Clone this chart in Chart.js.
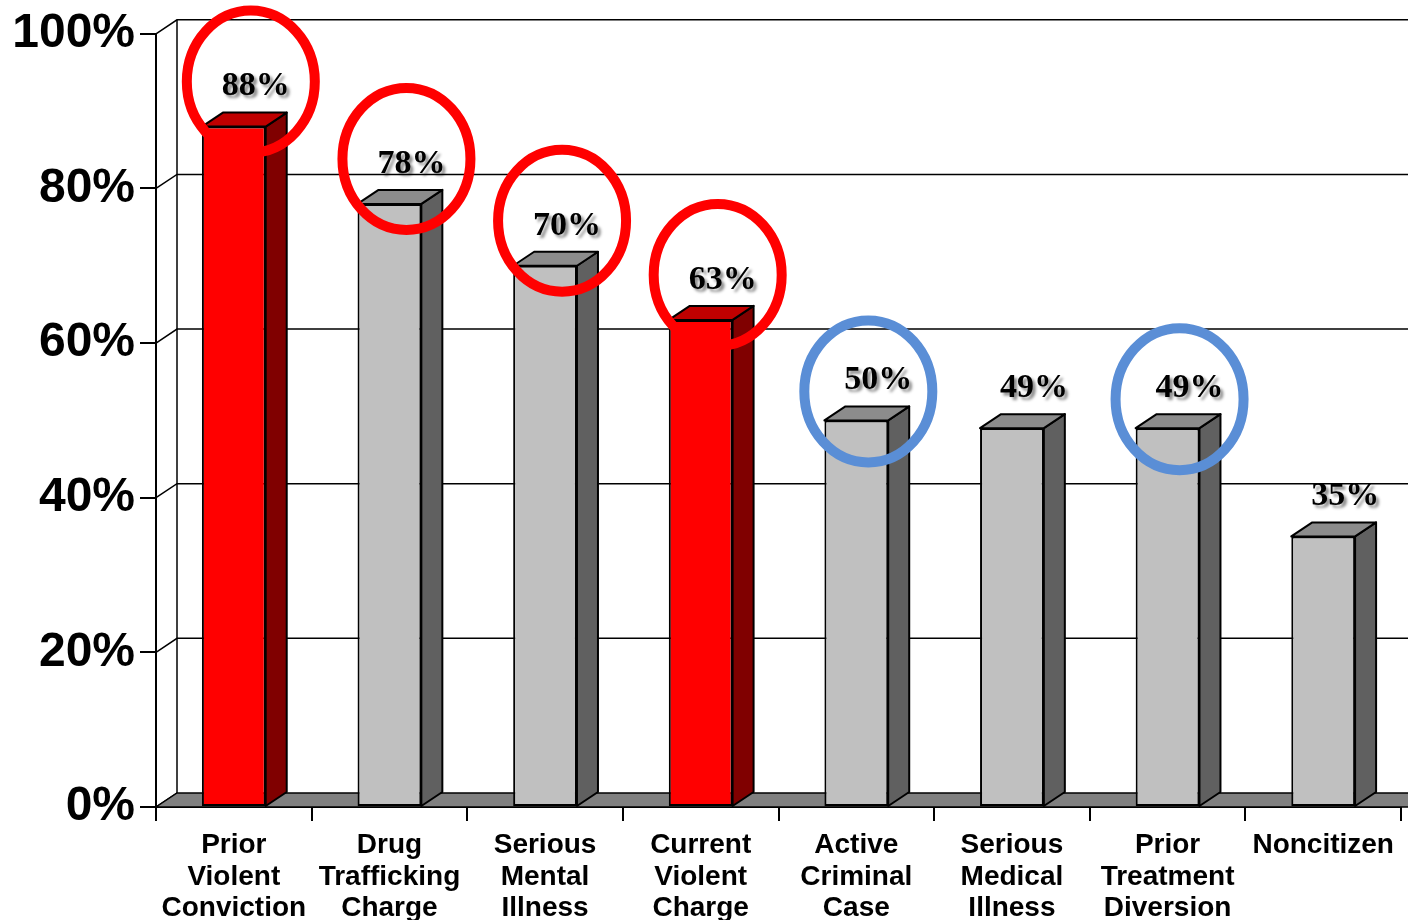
<!DOCTYPE html>
<html>
<head>
<meta charset="utf-8">
<script src="https://cdn.jsdelivr.net/npm/chart.js@4/dist/chart.umd.min.js"></script>
<style>
  html, body { margin: 0; padding: 0; background: #fff; }
  #wrap { width: 1408px; height: 920px; position: relative; overflow: hidden; }
</style>
</head>
<body>
<div id="wrap"><canvas id="barChart"></canvas></div>
<script>
const categories = [
  ["Prior", "Violent", "Conviction"],
  ["Drug", "Trafficking", "Charge"],
  ["Serious", "Mental", "Illness"],
  ["Current", "Violent", "Charge"],
  ["Active", "Criminal", "Case"],
  ["Serious", "Medical", "Illness"],
  ["Prior", "Treatment", "Diversion"],
  ["Noncitizen"]
];
const values = [88, 78, 70, 63, 50, 49, 49, 35];
const yTickLabels = ["0%", "20%", "40%", "60%", "80%", "100%"];

// which bars are red, which labels get a ring
const redBars = [0, 3];
const redRings = [0, 1, 2, 3];
const blueRings = [4, 6];

const depth = { dx: 21, dy: -14 };

function poly(ctx, pts, fill) {
  ctx.beginPath();
  ctx.moveTo(pts[0][0], pts[0][1]);
  for (let k = 1; k < pts.length; k++) ctx.lineTo(pts[k][0], pts[k][1]);
  ctx.closePath();
  ctx.fillStyle = fill;
  ctx.fill();
  ctx.stroke();
}

const box3d = {
  id: "box3d",
  beforeDatasetsDraw(chart) {
    const { ctx, chartArea: a, scales: { y } } = chart;
    const { dx, dy } = depth;
    ctx.save();
    ctx.strokeStyle = "#000";
    ctx.lineWidth = 1.5;
    y.ticks.forEach(t => {
      const py = y.getPixelForValue(t.value);
      ctx.beginPath();
      ctx.moveTo(a.left, py);
      ctx.lineTo(a.left + dx, py + dy);
      if (t.value > 0) ctx.lineTo(a.right + dx + 20, py + dy);
      ctx.stroke();
    });
    ctx.beginPath();
    ctx.moveTo(a.left + dx, a.top + dy);
    ctx.lineTo(a.left + dx, a.bottom + dy);
    ctx.stroke();
    poly(ctx, [
      [a.left, a.bottom], [a.right + 20, a.bottom],
      [a.right + 20 + dx, a.bottom + dy], [a.left + dx, a.bottom + dy]
    ], "#808080");
    ctx.restore();
  },
  afterDatasetsDraw(chart) {
    const { ctx } = chart;
    const { dx, dy } = depth;
    const meta = chart.getDatasetMeta(0);
    ctx.save();
    ctx.strokeStyle = "#000";
    ctx.lineWidth = 2;
    ctx.lineJoin = "round";
    meta.data.forEach((bar, i) => {
      const p = bar.getProps(["x", "y", "base", "width"], true);
      const l = p.x - p.width / 2, r = p.x + p.width / 2;
      const red = redBars.includes(i);
      poly(ctx, [[r, p.y], [r + dx, p.y + dy], [r + dx, p.base + dy], [r, p.base]],
        red ? "#800000" : "#606060");
      poly(ctx, [[l, p.y], [l + dx, p.y + dy], [r + dx, p.y + dy], [r, p.y]],
        red ? "#C00000" : "#8C8C8C");
    });

    // value labels
    ctx.font = 'bold 34px "Liberation Serif", "Times New Roman", serif';
    ctx.textAlign = "center";
    ctx.textBaseline = "middle";
    ctx.fillStyle = "#000";
    ctx.shadowColor = "rgba(0,0,0,0.45)";
    ctx.shadowOffsetX = 3;
    ctx.shadowOffsetY = 3;
    ctx.shadowBlur = 3;
    meta.data.forEach((bar, i) => {
      ctx.fillText(values[i] + "%", bar.x + 22, bar.y - 40);
    });
    ctx.shadowColor = "transparent";

    // rings
    ctx.lineWidth = 10;
    const ring = (i, color, ox, oy) => {
      const bar = meta.data[i];
      ctx.strokeStyle = color;
      ctx.beginPath();
      ctx.ellipse(bar.x + ox, bar.y + oy, 64, 71, 0, 0, Math.PI * 2);
      ctx.stroke();
    };
    redRings.forEach(i => ring(i, "#FF0000", 17, -45));
    blueRings.forEach(i => ring(i, "#5A8ED6", 12, -29));
    ctx.restore();
  }
};

const ctx = document.getElementById("barChart").getContext("2d");

new Chart(ctx, {
  type: "bar",
  data: {
    labels: categories,
    datasets: [{
      data: values,
      backgroundColor: values.map((v, i) => redBars.includes(i) ? "#FF0000" : "#C0C0C0"),
      borderColor: "#000",
      borderWidth: 2,
      borderSkipped: false,
      categoryPercentage: 1,
      barPercentage: 0.41
    }]
  },
  options: {
    responsive: true,
    maintainAspectRatio: false,
    animation: false,
    layout: { padding: { top: 31, right: 7, left: 0, bottom: 0 } },
    plugins: {
      legend: { display: false },
      tooltip: { enabled: false }
    },
    scales: {
      x: {
        afterFit: s => { s.height = 113; },
        grid: { drawOnChartArea: false, offset: true, tickLength: 14, color: "#000", lineWidth: 2 },
        border: { color: "#000", width: 2 },
        ticks: {
          color: "#000",
          autoSkip: false,
          maxRotation: 0,
          padding: 9,
          font: { family: '"Liberation Sans", Arial, sans-serif', size: 28, weight: "bold", lineHeight: 1.125 }
        }
      },
      y: {
        min: 0,
        max: 100,
        afterFit: s => { s.width = 156; },
        grid: { drawOnChartArea: false, tickLength: 16, color: "#000", lineWidth: 2 },
        border: { color: "#000", width: 2 },
        ticks: {
          stepSize: 20,
          color: "#000",
          padding: 5,
          callback: (v, i) => yTickLabels[i],
          font: { family: '"Liberation Sans", Arial, sans-serif', size: 48, weight: "bold" }
        }
      }
    }
  },
  plugins: [box3d]
});
</script>
</body>
</html>
